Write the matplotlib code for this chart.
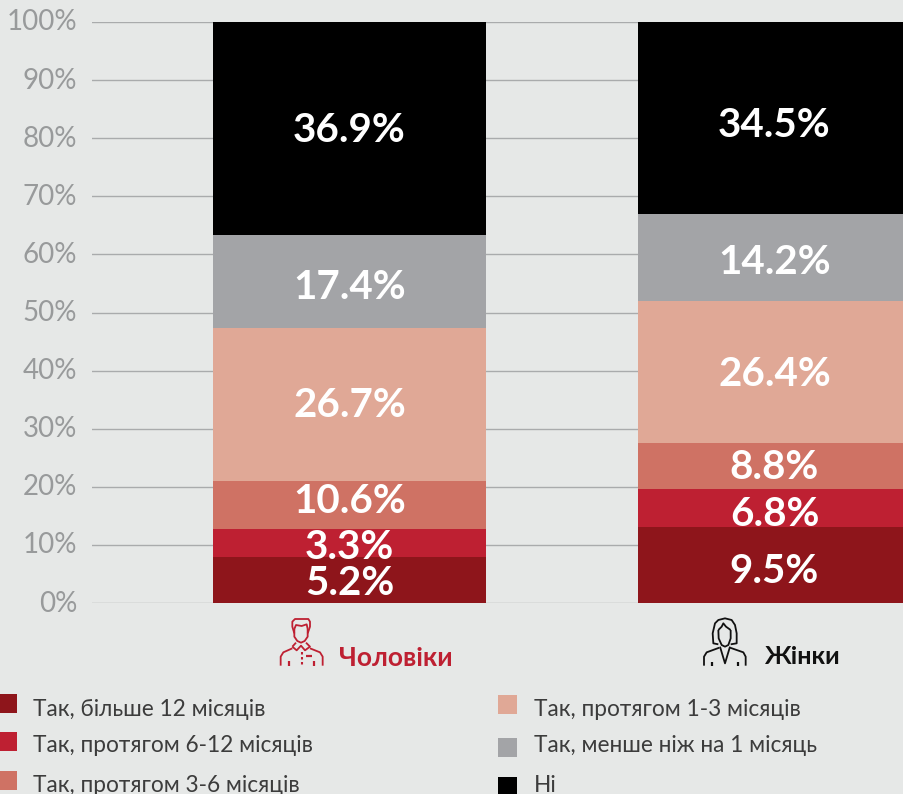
import matplotlib

matplotlib.use("Agg")
import matplotlib.pyplot as plt
from matplotlib.patches import Rectangle
from matplotlib.transforms import ScaledTranslation

W, H = 904, 794
BG = "#e6e8e7"

groups = ["Чоловіки", "Жінки"]
group_colors = ["#be2032", "#111111"]

# heights as drawn in the picture (they differ a little from the printed labels)
men_heights = [7.9, 4.8, 8.3, 26.3, 16.0, 36.7]
women_heights = [13.1, 6.5, 7.9, 24.4, 15.0, 33.1]
men_labels = ["5.2%", "3.3%", "10.6%", "26.7%", "17.4%", "36.9%"]
women_labels = ["9.5%", "6.8%", "8.8%", "26.4%", "14.2%", "34.5%"]

answers = [
    "Так, більше 12 місяців",
    "Так, протягом 6-12 місяців",
    "Так, протягом 3-6 місяців",
    "Так, протягом 1-3 місяців",
    "Так, менше ніж на 1 місяць",
    "Ні",
]
colors = ["#8e151b", "#be2032", "#cf7264", "#e0a896", "#a3a4a7", "#000000"]
ticks = list(range(0, 101, 10))

plt.rcParams["font.family"] = ["Lato", "Open Sans", "DejaVu Sans"]

fig = plt.figure(figsize=(W / 100, H / 100), dpi=100, facecolor=BG)
ax = fig.add_axes([92 / W, 1 - 603 / H, 813 / W, 581 / H], facecolor=BG)

bar_w = 273 / 425
# labels in the picture sit a few pixels off the segment centres
nudges = [[0, -1, 7, 3, -2, 2], [-3, -3, 2, 1, -1, -4]]
for i, (heights, labels) in enumerate(zip([men_heights, women_heights], [men_labels, women_labels])):
    bottom = 0
    for h, lab, col, dy in zip(heights, labels, colors, nudges[i]):
        ax.bar(i, h, bottom=bottom, width=bar_w, color=col, zorder=3)
        ax.annotate(lab, (i, bottom + h / 2), xytext=(0, dy * 0.72), textcoords="offset points",
                    color="white", fontsize=29, fontweight="bold",
                    ha="center", va="center_baseline", zorder=4)
        bottom += h

ax.set_xlim(-257.5 / 425, 555.5 / 425)
ax.set_ylim(0, 100)
ax.set_yticks(ticks)
ax.set_yticklabels([f"{t}%" for t in ticks], color="#989a9b", fontsize=20, va="center_baseline")
ax.set_xticks([])
ax.tick_params(axis="y", length=0, pad=10.8)
ax.grid(axis="y", color="#a9abac", lw=1.0, zorder=1)
for lab in ax.get_yticklabels():
    lab.set_transform(lab.get_transform() + ScaledTranslation(0, 2 / 100, fig.dpi_scale_trans))
for s in ax.spines.values():
    s.set_visible(False)

# overlay in pixel coordinates for the icons and the legend
ov = fig.add_axes([0, 0, 1, 1], facecolor="none")
ov.set_xlim(0, W)
ov.set_ylim(H, 0)
ov.axis("off")


def stroke(x0, y0, pts, col, lw=1.3):
    # pts come from a 3x crop of the icon
    ov.plot([x0 + p[0] / 3 for p in pts], [y0 + p[1] / 3 for p in pts], color=col, lw=lw,
            solid_capstyle="butt", solid_joinstyle="round")


def man_icon(x0, y0, col):
    stroke(x0, y0, [(103, 85), (97, 65), (97, 50), (105, 42), (145, 42), (150, 50), (150, 65), (143, 85)], col)
    stroke(x0, y0, [(103, 72), (103, 95), (112, 108), (123, 113), (134, 108), (143, 95), (143, 72)], col)
    stroke(x0, y0, [(103, 72), (108, 60), (125, 63), (140, 58), (143, 72)], col)
    stroke(x0, y0, [(97, 125), (110, 136), (123, 122), (135, 136), (150, 125), (138, 113)], col)
    stroke(x0, y0, [(97, 125), (108, 113)], col)
    stroke(x0, y0, [(62, 182), (62, 155), (70, 142), (97, 130)], col)
    stroke(x0, y0, [(188, 182), (188, 155), (180, 142), (150, 130)], col)
    ov.plot([x0 + 125 / 3] * 2, [y0 + 140 / 3, y0 + 180 / 3], color=col, lw=1.5, ls=(0, (1.2, 1.2)))
    stroke(x0, y0, [(138, 152), (156, 152)], col, lw=1.6)
    stroke(x0, y0, [(87, 168), (87, 182)], col, lw=1.6)
    stroke(x0, y0, [(162, 168), (162, 182)], col, lw=1.6)


def woman_icon(x0, y0, col):
    stroke(x0, y0, [(85, 118), (70, 115), (68, 85), (75, 55), (85, 45), (105, 40), (125, 45), (135, 60),
                    (140, 85), (140, 115), (122, 118)], col)
    stroke(x0, y0, [(85, 75), (86, 100), (95, 120), (105, 125), (115, 120), (122, 100), (122, 75)], col)
    stroke(x0, y0, [(85, 75), (95, 65), (100, 55), (108, 65), (122, 75)], col)
    stroke(x0, y0, [(90, 125), (105, 175), (120, 125)], col)
    stroke(x0, y0, [(42, 182), (42, 155), (50, 142), (88, 128)], col)
    stroke(x0, y0, [(167, 182), (167, 155), (160, 142), (120, 128)], col)
    stroke(x0, y0, [(65, 172), (65, 182)], col, lw=1.6)
    stroke(x0, y0, [(143, 172), (143, 182)], col, lw=1.6)


man_icon(260, 605, group_colors[0])
woman_icon(690, 605, group_colors[1])
ov.text(339, 658, groups[0], color=group_colors[0], fontsize=19, fontweight="bold", va="center")
ov.text(765, 657, groups[1], color=group_colors[1], fontsize=18, fontweight="bold", va="center")

# legend, two columns of three
legend_x = [0, 498]
text_x = [33, 534]
box_y = [694, 732, 771, 695, 738, 777]
text_y = [709, 746, 785, 709, 746, 785]
for i, (name, col) in enumerate(zip(answers, colors)):
    c = i // 3
    ov.add_patch(Rectangle((legend_x[c], box_y[i]), 17 if c == 0 else 19, 18.5, color=col, lw=0))
    ov.text(text_x[c], text_y[i], name, color="#3c3c3c", fontsize=16.3, va="center")

fig.savefig("out.png", dpi=100, facecolor=BG)
plt.close()
